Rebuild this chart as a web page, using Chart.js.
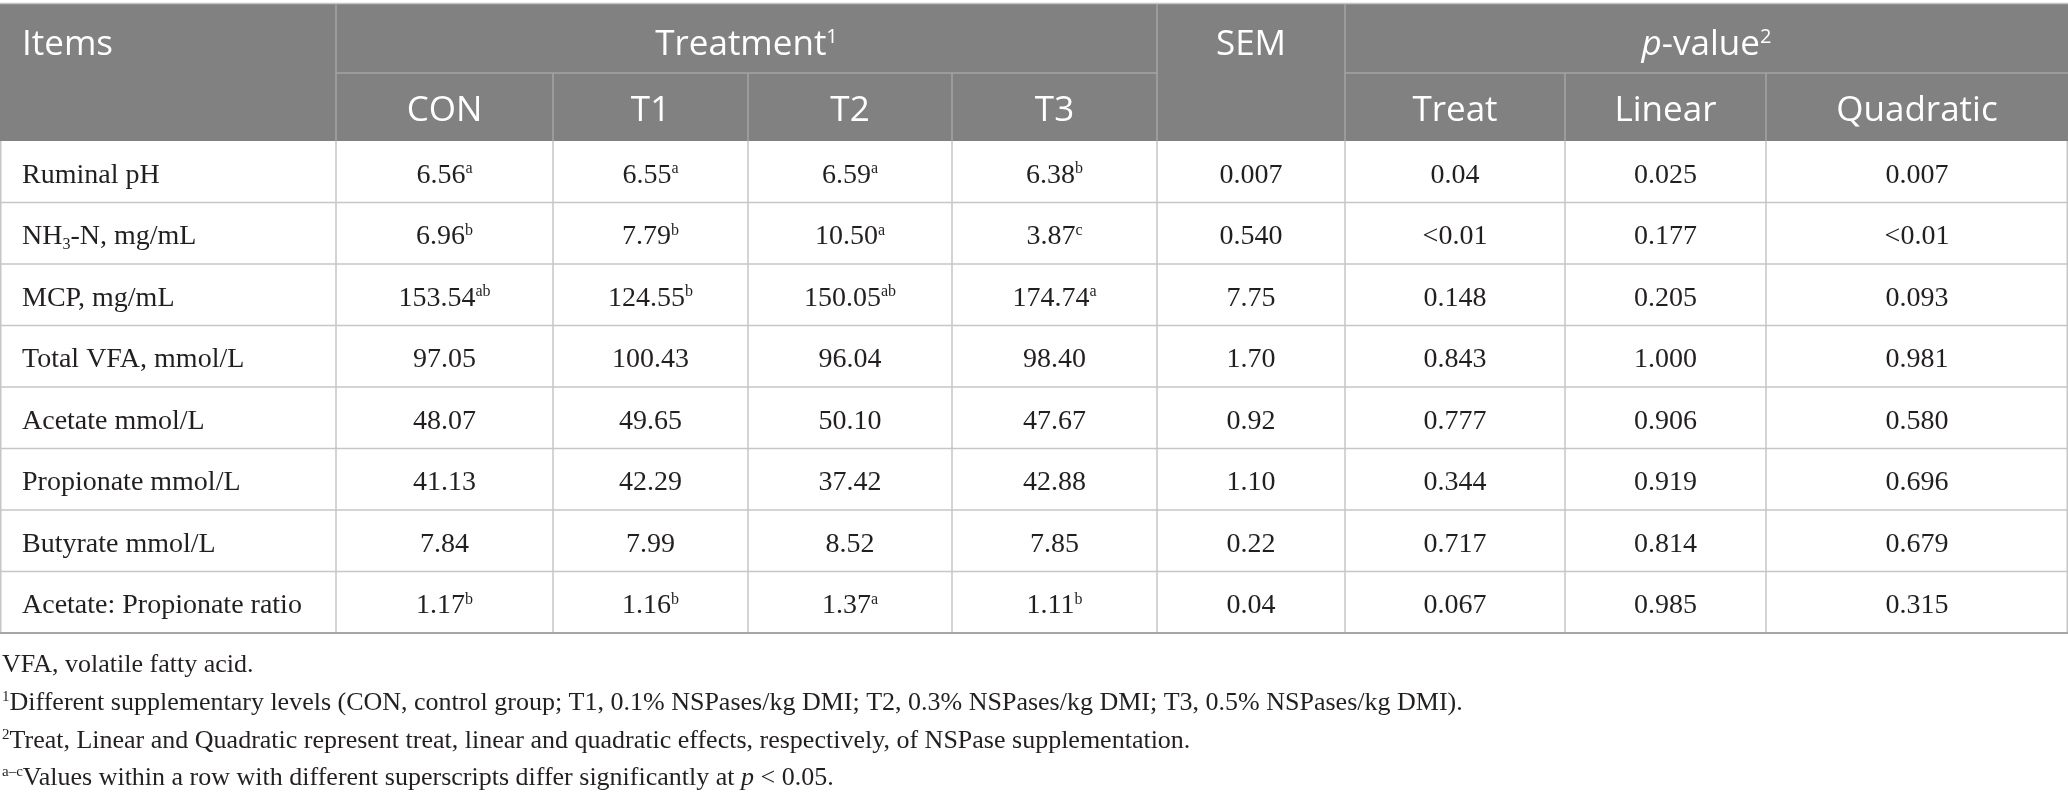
<!DOCTYPE html>
<html>
<head>
<meta charset="utf-8">
<script src="https://cdn.jsdelivr.net/npm/chart.js@4.4.1/dist/chart.umd.min.js"></script>
<style>
  html, body { margin: 0; padding: 0; background: #fff; }
  #wrap { width: 2068px; height: 797px; }
</style>
</head>
<body>
<div id="wrap"><canvas id="tableChart" width="2068" height="797"></canvas></div>
<script>
// table data
const items = ['Ruminal pH', 'NH_3-N, mg/mL', 'MCP, mg/mL', 'Total VFA, mmol/L', 'Acetate mmol/L',
  'Propionate mmol/L', 'Butyrate mmol/L', 'Acetate: Propionate ratio'];
const treatments = ['CON', 'T1', 'T2', 'T3'];
const pLabels = ['Treat', 'Linear', 'Quadratic'];

const conVals = ['6.56', '6.96', '153.54', '97.05', '48.07', '41.13', '7.84', '1.17'];
const conSup = ['a', 'b', 'ab', '', '', '', '', 'b'];
const t1Vals = ['6.55', '7.79', '124.55', '100.43', '49.65', '42.29', '7.99', '1.16'];
const t1Sup = ['a', 'b', 'b', '', '', '', '', 'b'];
const t2Vals = ['6.59', '10.50', '150.05', '96.04', '50.10', '37.42', '8.52', '1.37'];
const t2Sup = ['a', 'a', 'ab', '', '', '', '', 'a'];
const t3Vals = ['6.38', '3.87', '174.74', '98.40', '47.67', '42.88', '7.85', '1.11'];
const t3Sup = ['b', 'c', 'a', '', '', '', '', 'b'];
const semVals = ['0.007', '0.540', '7.75', '1.70', '0.92', '1.10', '0.22', '0.04'];
const pTreat = ['0.04', '<0.01', '0.148', '0.843', '0.777', '0.344', '0.717', '0.067'];
const pLinear = ['0.025', '0.177', '0.205', '1.000', '0.906', '0.919', '0.814', '0.985'];
const pQuad = ['0.007', '<0.01', '0.093', '0.981', '0.580', '0.696', '0.679', '0.315'];

const footnotes = [
  [{ t: 'VFA, volatile fatty acid.' }],
  [{ t: '1', s: 'sup' }, { t: 'Different supplementary levels (CON, control group; T1, 0.1% NSPases/kg DMI; T2, 0.3% NSPases/kg DMI; T3, 0.5% NSPases/kg DMI).' }],
  [{ t: '2', s: 'sup' }, { t: 'Treat, Linear and Quadratic represent treat, linear and quadratic effects, respectively, of NSPase supplementation.' }],
  [{ t: 'a\u2013c', s: 'sup' }, { t: 'Values within a row with different superscripts differ significantly at ' }, { t: 'p', s: 'i' }, { t: ' < 0.05.' }]
];

// layout (in scale units)
const colEdges = [0, 336, 553, 748, 952, 1157, 1345, 1565, 1766, 2068];
const headTop = 4, headMid = 73, headBottom = 141, rowH = 61.5;
const footY = [663, 701, 739, 776];

const SERIF = '"Liberation Serif", "DejaVu Serif", serif';
const SANS = '"Open Sans", "Noto Sans", sans-serif';

function parseSub(str) {
  // "NH_3-N" -> NH, sub 3, -N
  const parts = [];
  const re = /_(\w)/g;
  let last = 0, m;
  while ((m = re.exec(str))) {
    if (m.index > last) parts.push({ t: str.slice(last, m.index) });
    parts.push({ t: m[1], s: 'sub' });
    last = re.lastIndex;
  }
  if (last < str.length) parts.push({ t: str.slice(last) });
  return parts;
}

function fontFor(p, size, family) {
  if (p.s === 'sup' || p.s === 'sub') return (Math.round(size * 0.58)) + 'px ' + family;
  if (p.s === 'i') return 'italic ' + size + 'px ' + family;
  return size + 'px ' + family;
}

function drawParts(ctx, parts, x, yMid, align, size, family, capRatio) {
  let total = 0;
  parts.forEach(p => { ctx.font = fontFor(p, size, family); p.w = ctx.measureText(p.t).width; total += p.w; });
  let cx = align === 'center' ? x - total / 2 : x;
  const base = yMid + size * capRatio / 2;
  ctx.textAlign = 'left';
  ctx.textBaseline = 'alphabetic';
  parts.forEach(p => {
    ctx.font = fontFor(p, size, family);
    let dy = 0;
    if (p.s === 'sup') dy = -size * 0.33;
    if (p.s === 'sub') dy = size * 0.18;
    ctx.fillText(p.t, cx, base + dy);
    cx += p.w;
  });
}

const tablePlugin = {
  id: 'tablePlugin',
  afterDraw(chart) {
    const ctx = chart.ctx;
    const xs = chart.scales.x, ys = chart.scales.y;
    const X = v => xs.getPixelForValue(v);
    const Y = v => ys.getPixelForValue(v);
    const rowTop = r => headBottom + r * rowH;
    const left = X(colEdges[0]), right = X(colEdges[colEdges.length - 1]);

    ctx.save();
    // header background
    ctx.fillStyle = '#808180';
    ctx.fillRect(left, Y(headTop), right - left, Y(headBottom) - Y(headTop));
    ctx.strokeStyle = '#c4c4c4';
    ctx.lineWidth = 1.5;
    ctx.beginPath();
    ctx.moveTo(left, Y(headTop) - 0.5); ctx.lineTo(right, Y(headTop) - 0.5);
    ctx.stroke();

    // header inner lines
    ctx.strokeStyle = '#a4a4a4';
    ctx.lineWidth = 1.5;
    ctx.beginPath();
    [1, 5, 6].forEach(c => { ctx.moveTo(X(colEdges[c]), Y(headTop)); ctx.lineTo(X(colEdges[c]), Y(headBottom)); });
    [2, 3, 4, 7, 8].forEach(c => { ctx.moveTo(X(colEdges[c]), Y(headMid)); ctx.lineTo(X(colEdges[c]), Y(headBottom)); });
    ctx.moveTo(X(colEdges[1]), Y(headMid)); ctx.lineTo(X(colEdges[5]), Y(headMid));
    ctx.moveTo(X(colEdges[6]), Y(headMid)); ctx.lineTo(X(colEdges[9]), Y(headMid));
    ctx.stroke();

    // body grid
    const bodyBottom = rowTop(items.length);
    ctx.strokeStyle = '#c6c6c6';
    ctx.lineWidth = 1.5;
    ctx.beginPath();
    colEdges.forEach((e, c) => {
      const px = c === colEdges.length - 1 ? X(e) - 0.75 : (c === 0 ? X(e) + 0.75 : X(e));
      ctx.moveTo(px, Y(headBottom)); ctx.lineTo(px, Y(bodyBottom));
    });
    for (let r = 1; r < items.length; r++) {
      ctx.moveTo(left, Y(rowTop(r))); ctx.lineTo(right, Y(rowTop(r)));
    }
    ctx.stroke();
    ctx.strokeStyle = '#a6a6a6';
    ctx.lineWidth = 2;
    ctx.beginPath();
    ctx.moveTo(left, Y(bodyBottom)); ctx.lineTo(right, Y(bodyBottom));
    ctx.stroke();

    // header text
    ctx.fillStyle = '#ffffff';
    const hs = 35;
    const h1 = Y((headTop + headMid) / 2 + 4), h2 = Y((headMid + headBottom) / 2 + 2);
    const mid = (a, b) => X((colEdges[a] + colEdges[b]) / 2);
    drawParts(ctx, [{ t: 'Items' }], X(colEdges[0]) + 22, h1, 'left', hs, SANS, 0.714);
    drawParts(ctx, [{ t: 'Treatment' }, { t: '1', s: 'sup' }], mid(1, 5), h1, 'center', hs, SANS, 0.714);
    drawParts(ctx, [{ t: 'SEM' }], mid(5, 6), h1, 'center', hs, SANS, 0.714);
    drawParts(ctx, [{ t: 'p', s: 'i' }, { t: '-value' }, { t: '2', s: 'sup' }], mid(6, 9), h1, 'center', hs, SANS, 0.714);
    treatments.forEach((t, i) => drawParts(ctx, [{ t }], mid(1 + i, 2 + i), h2, 'center', hs, SANS, 0.714));
    pLabels.forEach((t, i) => drawParts(ctx, [{ t }], mid(6 + i, 7 + i), h2, 'center', hs, SANS, 0.714));

    // body text
    ctx.fillStyle = '#231f20';
    const bs = 28;
    const cols = [[conVals, conSup], [t1Vals, t1Sup], [t2Vals, t2Sup], [t3Vals, t3Sup],
      [semVals, null], [pTreat, null], [pLinear, null], [pQuad, null]];
    items.forEach((name, r) => {
      const cy = Y(rowTop(r) + rowH / 2 + 1.5);
      drawParts(ctx, parseSub(name), X(colEdges[0]) + 22, cy, 'left', bs, SERIF, 0.662);
      cols.forEach(([vals, sups], c) => {
        const parts = [{ t: vals[r] }];
        if (sups && sups[r]) parts.push({ t: sups[r], s: 'sup' });
        drawParts(ctx, parts, mid(c + 1, c + 2), cy, 'center', bs, SERIF, 0.662);
      });
    });

    // footnotes
    footnotes.forEach((parts, i) => drawParts(ctx, parts, X(colEdges[0]) + 2, Y(footY[i]), 'left', 26, SERIF, 0.662));
    ctx.restore();
  }
};

new Chart(document.getElementById('tableChart'), {
  type: 'scatter',
  data: { datasets: [{ data: [], pointRadius: 0 }] },
  options: {
    responsive: false,
    animation: false,
    devicePixelRatio: 1,
    layout: { padding: 0 },
    plugins: { legend: { display: false }, tooltip: { enabled: false } },
    scales: {
      x: { type: 'linear', display: false, min: colEdges[0], max: colEdges[colEdges.length - 1] },
      y: { type: 'linear', display: false, min: 0, max: 797, reverse: true }
    }
  },
  plugins: [tablePlugin]
});
</script>
</body>
</html>
